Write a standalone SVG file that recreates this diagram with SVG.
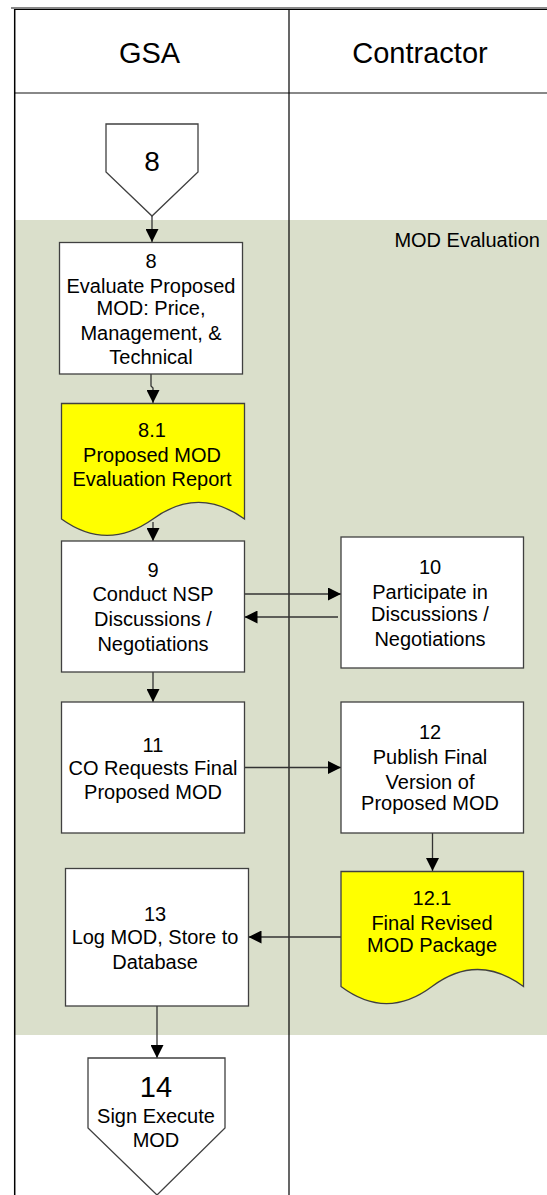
<svg xmlns="http://www.w3.org/2000/svg" width="547" height="1195" viewBox="0 0 547 1195">
<style>
text{font-family:"Liberation Sans",Arial,Helvetica,sans-serif;fill:#000;text-anchor:middle}
.hdr{font-size:29px}
.t{font-size:20px}
.box{fill:#fff;stroke:#404040;stroke-width:1.3}
.doc{fill:#ffff00;stroke:#404040;stroke-width:1.3}
.con{fill:none;stroke:#333;stroke-width:1.3;marker-end:url(#ah)}
</style>
<defs>
<marker id="ah" markerUnits="userSpaceOnUse" markerWidth="13" markerHeight="13" refX="13" refY="6.5" orient="auto">
<path d="M0,0 L13,6.5 L0,13 Z" fill="#000"/>
</marker>
</defs>
<rect width="547" height="1195" fill="#fff"/>
<g id="phase">
<rect x="15" y="220" width="532" height="815" fill="#dadfcb"/>
<text x="540" y="247" style="text-anchor:end;font-size:20px">MOD Evaluation</text>
</g>
<g id="lanes">
<line x1="11" y1="8" x2="547" y2="8" stroke="#888" stroke-width="2"/>
<line x1="14" y1="9.5" x2="547" y2="9.5" stroke="#000" stroke-width="1"/>
<line x1="15" y1="93" x2="547" y2="93" stroke="#888" stroke-width="2"/>
<line x1="14.7" y1="9" x2="14.7" y2="1195" stroke="#000" stroke-width="1.5"/>
<line x1="289" y1="9" x2="289" y2="1195" stroke="#000" stroke-width="1.2"/>
<text class="hdr" x="149.5" y="63">GSA</text>
<text class="hdr" x="420" y="63">Contractor</text>
</g>
<g id="connectors">
<path class="con" d="M152,216 V242"/>
<path class="con" d="M151,374 V386 L153,388 V403"/>
<path class="con" d="M153,522 V541"/>
<path class="con" d="M244.5,594 H341"/>
<path class="con" d="M338,617 H244.5"/>
<path class="con" d="M153,672 V702"/>
<path class="con" d="M244.5,767.5 H341"/>
<path class="con" d="M432.5,833 V871"/>
<path class="con" d="M341,937 H248.5"/>
<path class="con" d="M157,1006 V1058"/>
</g>
<g id="n8in">
<path class="box" d="M106,124 H198 V172 L152,216 L106,172 Z"/>
<text x="152" y="171" style="font-size:28px">8</text>
</g>
<g id="n8">
<rect class="box" x="59.5" y="242.5" width="183" height="131.5"/>
<text class="t" x="151" y="267.5">8</text>
<text class="t" x="151" y="293">Evaluate Proposed</text>
<text class="t" x="151" y="315">MOD: Price,</text>
<text class="t" x="151" y="340">Management, &amp;</text>
<text class="t" x="151" y="364">Technical</text>
</g>
<g id="n8_1">
<path class="doc" d="M61.5,403.5 H244.5 V519 C214,497 183,497 153,519 C122,541 92,541 61.5,519 Z"/>
<text class="t" x="152" y="437">8.1</text>
<text class="t" x="152" y="462">Proposed MOD</text>
<text class="t" x="152" y="485.5">Evaluation Report</text>
</g>
<g id="n9">
<rect class="box" x="61.5" y="541" width="183" height="131"/>
<text class="t" x="153" y="576.5">9</text>
<text class="t" x="153" y="601">Conduct NSP</text>
<text class="t" x="153" y="626">Discussions /</text>
<text class="t" x="153" y="651">Negotiations</text>
</g>
<g id="n10">
<rect class="box" x="341" y="537" width="182.5" height="131"/>
<text class="t" x="430" y="574">10</text>
<text class="t" x="430" y="598.5">Participate in</text>
<text class="t" x="430" y="621">Discussions /</text>
<text class="t" x="430" y="645.5">Negotiations</text>
</g>
<g id="n11">
<rect class="box" x="61.5" y="702" width="183" height="131"/>
<text class="t" x="153" y="752">11</text>
<text class="t" x="153" y="774.5">CO Requests Final</text>
<text class="t" x="153" y="799">Proposed MOD</text>
</g>
<g id="n12">
<rect class="box" x="341" y="702" width="182.5" height="131"/>
<text class="t" x="430" y="738.5">12</text>
<text class="t" x="430" y="763.5">Publish Final</text>
<text class="t" x="430" y="788.5">Version of</text>
<text class="t" x="430" y="810">Proposed MOD</text>
</g>
<g id="n12_1">
<path class="doc" d="M341,871.5 H523.5 V986.5 C493,964 462,964 432,986.5 C402,1009 371,1009 341,986.5 Z"/>
<text class="t" x="432" y="904.5">12.1</text>
<text class="t" x="432" y="930">Final Revised</text>
<text class="t" x="432" y="951.5">MOD Package</text>
</g>
<g id="n13">
<rect class="box" x="65.5" y="868.5" width="183" height="137.5"/>
<text class="t" x="155" y="921">13</text>
<text class="t" x="155" y="943.5">Log MOD, Store to</text>
<text class="t" x="155" y="968.5">Database</text>
</g>
<g id="n14">
<path class="box" d="M88,1058 H225 V1128 L157,1195 L88,1128 Z"/>
<text x="156" y="1097" style="font-size:29px">14</text>
<text class="t" x="156" y="1122.5">Sign Execute</text>
<text class="t" x="156" y="1147">MOD</text>
</g>
</svg>
